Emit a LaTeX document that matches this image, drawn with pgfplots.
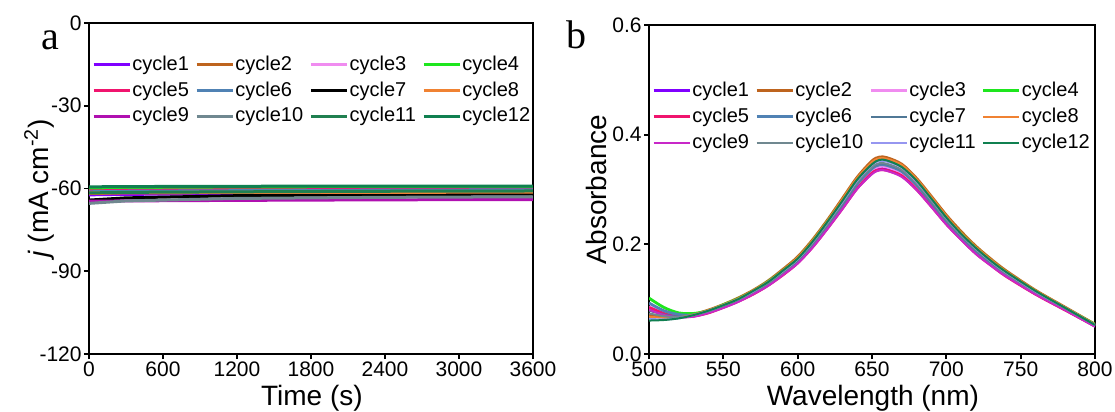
\documentclass[border=0pt]{standalone}
\usepackage{fontspec}
\setmainfont{Liberation Sans}
\newfontfamily\seriffont{Liberation Serif}
\usepackage{pgfplots}
\pgfplotsset{compat=1.18}
\usepackage{pgfplotstable}

\definecolor{cA}{RGB}{128,0,255}
\definecolor{cB}{RGB}{190,100,30}
\definecolor{cC}{RGB}{240,140,240}
\definecolor{cD}{RGB}{30,230,30}
\definecolor{cE}{RGB}{240,20,110}
\definecolor{cF}{RGB}{80,130,180}
\definecolor{cG}{RGB}{0,0,0}
\definecolor{cGb}{RGB}{80,120,150}
\definecolor{cH}{RGB}{240,130,50}
\definecolor{cI}{RGB}{176,16,176}
\definecolor{cIb}{RGB}{200,40,200}
\definecolor{cJ}{RGB}{112,136,144}
\definecolor{cK}{RGB}{32,128,80}
\definecolor{cKb}{RGB}{150,150,240}
\definecolor{cL}{RGB}{16,128,80}

\pgfplotstableread{
wl c1 c2 c3 c4 c5 c6 c7 c8 c9 c10 c11 c12
500 0.084 0.072 0.086 0.102 0.085 0.093 0.079 0.068 0.081 0.074 0.064 0.061
510 0.074 0.068 0.075 0.085 0.074 0.079 0.072 0.066 0.071 0.069 0.063 0.062
520 0.068 0.068 0.069 0.075 0.068 0.072 0.068 0.067 0.067 0.067 0.065 0.065
530 0.070 0.072 0.070 0.074 0.069 0.071 0.070 0.072 0.068 0.071 0.071 0.071
540 0.076 0.080 0.076 0.079 0.075 0.077 0.077 0.080 0.075 0.078 0.079 0.079
550 0.086 0.090 0.086 0.090 0.085 0.087 0.087 0.090 0.084 0.088 0.089 0.089
560 0.097 0.102 0.097 0.101 0.096 0.098 0.098 0.101 0.095 0.099 0.100 0.100
570 0.110 0.116 0.111 0.115 0.109 0.112 0.113 0.116 0.109 0.113 0.114 0.115
580 0.126 0.133 0.127 0.132 0.125 0.128 0.129 0.132 0.124 0.129 0.131 0.131
590 0.146 0.154 0.147 0.152 0.144 0.148 0.149 0.153 0.144 0.149 0.151 0.152
600 0.167 0.177 0.168 0.175 0.166 0.170 0.171 0.176 0.165 0.172 0.173 0.174
610 0.197 0.208 0.198 0.206 0.195 0.200 0.201 0.207 0.194 0.202 0.204 0.205
620 0.231 0.244 0.233 0.242 0.229 0.235 0.236 0.243 0.228 0.237 0.240 0.241
630 0.268 0.283 0.269 0.280 0.265 0.272 0.273 0.282 0.264 0.275 0.277 0.279
640 0.305 0.322 0.307 0.319 0.302 0.310 0.312 0.321 0.301 0.313 0.316 0.318
650 0.333 0.352 0.335 0.348 0.330 0.338 0.340 0.350 0.328 0.341 0.345 0.346
655 0.340 0.359 0.342 0.355 0.336 0.345 0.347 0.357 0.335 0.348 0.352 0.354
660 0.339 0.358 0.341 0.354 0.335 0.344 0.346 0.356 0.334 0.347 0.351 0.353
670 0.328 0.346 0.330 0.343 0.325 0.333 0.335 0.345 0.323 0.336 0.340 0.341
680 0.303 0.320 0.305 0.317 0.300 0.308 0.310 0.319 0.299 0.311 0.314 0.316
690 0.272 0.287 0.273 0.284 0.269 0.276 0.277 0.286 0.268 0.279 0.282 0.283
700 0.239 0.253 0.241 0.250 0.237 0.243 0.244 0.252 0.236 0.245 0.248 0.249
710 0.211 0.223 0.212 0.220 0.209 0.214 0.215 0.221 0.208 0.216 0.218 0.219
720 0.185 0.196 0.186 0.194 0.183 0.188 0.189 0.195 0.182 0.190 0.192 0.193
730 0.164 0.173 0.164 0.171 0.162 0.166 0.167 0.172 0.161 0.168 0.169 0.170
740 0.144 0.152 0.145 0.150 0.142 0.146 0.147 0.151 0.142 0.147 0.149 0.150
760 0.110 0.116 0.111 0.115 0.109 0.112 0.113 0.116 0.109 0.113 0.114 0.115
780 0.081 0.085 0.081 0.084 0.080 0.082 0.082 0.085 0.080 0.083 0.084 0.084
800 0.051 0.054 0.051 0.054 0.051 0.052 0.052 0.054 0.050 0.053 0.053 0.053
}\spec

\pgfplotsset{
  panel/.style={
    scale only axis,
    axis line style={line width=0.9pt},
    tick align=outside,
    tick pos=left,
    major tick length=2.5pt,
    major tick style={line width=0.9pt, black},
    tick label style={font=\fontsize{10.5}{10.5}\selectfont, inner sep=1pt},
    every axis x label/.style={at={(axis description cs:0.502,-0.135)}, anchor=center, font=\fontsize{14}{14}\selectfont},
    every axis y label/.style={at={(axis description cs:-0.112,0.5)}, rotate=90, anchor=center, font=\fontsize{14}{14}\selectfont},
    legend columns=4,
    legend cell align=left,
    legend image code/.code={\draw[##1] (0pt,0pt) -- (18pt,0pt);},
    legend style={draw=none, fill=none, inner sep=0pt, outer sep=0pt,
      font=\fontsize{10}{10}\selectfont,
      nodes={inner sep=0.6pt},
      /tikz/row sep=3pt,
      /tikz/every even column/.append style={column sep=2.5pt}},
  }
}

\begin{document}
\begin{tikzpicture}
\useasboundingbox (0,0) rectangle (557.5pt,-206pt);

\begin{axis}[panel,
  at={(44.5pt,-177pt)}, anchor=south west,
  width=222pt, height=165.5pt,
  xmin=0, xmax=3600, ymin=-120, ymax=0,
  xtick={0,600,1200,1800,2400,3000,3600},
  xticklabels={0,600,1200,1800,2400,3000,3600},
  ytick={-120,-90,-60,-30,0},
  yticklabels={-120,-90,-60,-30,0},
  xlabel={Time (s)},
  ylabel={\textit{j} (mA cm\textsuperscript{-2})},
  legend style={at={(0.007,0.905)}, anchor=north west},
  every axis plot/.append style={line width=1.5pt},
]
\addplot[cA] coordinates {(0,-62.3) (300,-62.1) (1200,-62.0) (2400,-62.0) (3600,-61.9)};
\addplot[cB] coordinates {(0,-61.8) (300,-61.6) (1200,-61.5) (2400,-61.5) (3600,-61.4)};
\addplot[cC] coordinates {(0,-60.7) (300,-60.6) (1200,-60.5) (2400,-60.4) (3600,-60.4)};
\addplot[cD] coordinates {(0,-60.1) (300,-60.0) (1200,-60.0) (2400,-59.9) (3600,-59.9)};
\addplot[cE] coordinates {(0,-60.9) (300,-60.7) (1200,-60.5) (2400,-60.4) (3600,-60.3)};
\addplot[cF] coordinates {(0,-61.2) (300,-61.0) (1200,-60.8) (2400,-60.6) (3600,-60.5)};
\addplot[cG] coordinates {(0,-64.2) (300,-63.4) (1200,-62.6) (2400,-62.2) (3600,-62.0)};
\addplot[cH] coordinates {(0,-61.6) (300,-61.5) (1200,-61.4) (2400,-61.4) (3600,-61.3)};
\addplot[cI] coordinates {(0,-64.6) (300,-64.5) (1200,-64.3) (2400,-64.1) (3600,-64.0)};
\addplot[cJ] coordinates {(0,-65.4) (300,-64.5) (1200,-63.6) (2400,-63.2) (3600,-63.0)};
\addplot[cK] coordinates {(0,-61.6) (300,-61.4) (1200,-61.2) (2400,-61.0) (3600,-60.9)};
\addplot[cL] coordinates {(0,-59.4) (300,-59.3) (1200,-59.2) (2400,-59.1) (3600,-59.1)};
\legend{cycle1,cycle2,cycle3,cycle4,cycle5,cycle6,cycle7,cycle8,cycle9,cycle10,cycle11,cycle12}
\end{axis}

\begin{axis}[panel,
  at={(324.5pt,-177pt)}, anchor=south west,
  width=223pt, height=164.5pt,
  xmin=500, xmax=800, ymin=0, ymax=0.6,
  xtick={500,550,600,650,700,750,800},
  xticklabels={500,550,600,650,700,750,800},
  ytick={0,0.2,0.4,0.6},
  yticklabels={0.0,0.2,0.4,0.6},
  xlabel={Wavelength (nm)},
  ylabel={Absorbance},
  every axis y label/.append style={at={(axis description cs:-0.117,0.5)}},
  legend style={at={(0.007,0.83)}, anchor=north west},
]
\addplot[cA, line width=1.5pt, smooth] table[x=wl,y=c1]{\spec};
\addplot[cB, line width=1.5pt, smooth] table[x=wl,y=c2]{\spec};
\addplot[cC, line width=1.4pt, smooth] table[x=wl,y=c3]{\spec};
\addplot[cD, line width=1.4pt, smooth] table[x=wl,y=c4]{\spec};
\addplot[cE, line width=1.4pt, smooth] table[x=wl,y=c5]{\spec};
\addplot[cF, line width=1.4pt, smooth] table[x=wl,y=c6]{\spec};
\addplot[cGb, line width=1pt, smooth] table[x=wl,y=c7]{\spec};
\addplot[cH, line width=1pt, smooth] table[x=wl,y=c8]{\spec};
\addplot[cIb, line width=1pt, smooth] table[x=wl,y=c9]{\spec};
\addplot[cJ, line width=1pt, smooth] table[x=wl,y=c10]{\spec};
\addplot[cKb, line width=1pt, smooth] table[x=wl,y=c11]{\spec};
\addplot[cL, line width=1pt, smooth] table[x=wl,y=c12]{\spec};
\legend{cycle1,cycle2,cycle3,cycle4,cycle5,cycle6,cycle7,cycle8,cycle9,cycle10,cycle11,cycle12}
\end{axis}

\node[font=\seriffont\fontsize{20}{20}\selectfont] at (25pt,-20pt) {a};
\node[font=\seriffont\fontsize{20}{20}\selectfont] at (288pt,-17.5pt) {b};
\end{tikzpicture}
\end{document}
